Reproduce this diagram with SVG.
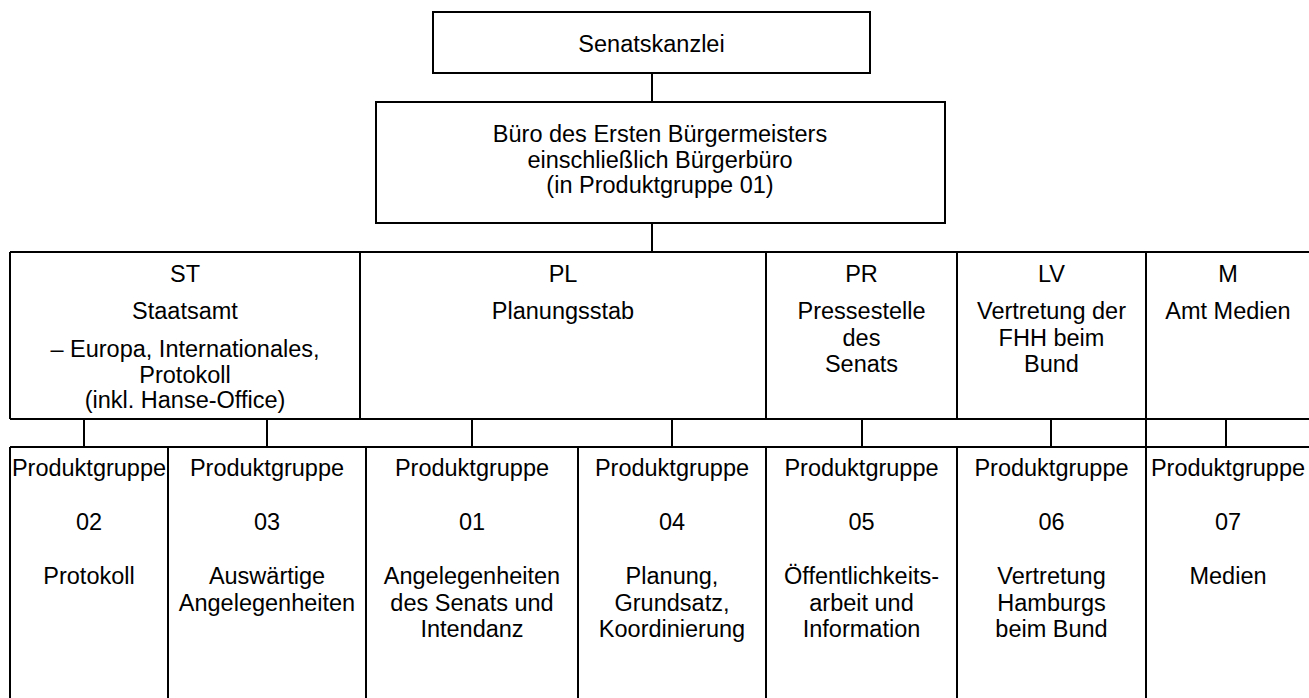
<svg xmlns="http://www.w3.org/2000/svg" width="1309" height="698" viewBox="0 0 1309 698">
<style>
  .ln { stroke:#000; stroke-width:2; fill:none; }
  .box { stroke:#000; stroke-width:2; fill:#fff; }
  text { font-family:"Liberation Sans", Arial, sans-serif; font-size:23.5px; fill:#000; text-anchor:middle; }
</style>
<rect width="1309" height="698" fill="#fff"/>

<g id="connectors">
  <line class="ln" x1="652" y1="73" x2="652" y2="102"/>
  <line class="ln" x1="652" y1="223" x2="652" y2="252"/>
  <line class="ln" x1="84" y1="419" x2="84" y2="447"/>
  <line class="ln" x1="267" y1="419" x2="267" y2="447"/>
  <line class="ln" x1="472" y1="419" x2="472" y2="447"/>
  <line class="ln" x1="672" y1="419" x2="672" y2="447"/>
  <line class="ln" x1="862" y1="419" x2="862" y2="447"/>
  <line class="ln" x1="1051" y1="419" x2="1051" y2="447"/>
  <line class="ln" x1="1146" y1="419" x2="1146" y2="447"/>
  <line class="ln" x1="1226" y1="419" x2="1226" y2="447"/>
</g>

<g id="senatskanzlei">
  <rect class="box" x="433" y="12" width="437" height="61"/>
  <text x="651.5" y="51.5">Senatskanzlei</text>
</g>

<g id="buero">
  <rect class="box" x="376" y="102" width="569" height="121"/>
  <text x="660" y="142">Büro des Ersten Bürgermeisters</text>
  <text x="660" y="167.5">einschließlich Bürgerbüro</text>
  <text x="660" y="193">(in Produktgruppe 01)</text>
</g>

<g id="main-row">
  <line class="ln" x1="10" y1="252" x2="1309" y2="252"/>
  <line class="ln" x1="10" y1="419" x2="1309" y2="419"/>
  <line class="ln" x1="10" y1="252" x2="10" y2="419"/>
  <line class="ln" x1="360" y1="252" x2="360" y2="419"/>
  <line class="ln" x1="766" y1="252" x2="766" y2="419"/>
  <line class="ln" x1="957" y1="252" x2="957" y2="419"/>
  <line class="ln" x1="1146" y1="252" x2="1146" y2="419"/>
</g>

<g id="st">
  <text x="185" y="282">ST</text>
  <text x="185" y="319">Staatsamt</text>
  <text x="185" y="356.5">– Europa, Internationales,</text>
  <text x="185" y="383">Protokoll</text>
  <text x="185" y="408">(inkl. Hanse-Office)</text>
</g>
<g id="pl">
  <text x="563" y="282">PL</text>
  <text x="563" y="319">Planungsstab</text>
</g>
<g id="pr">
  <text x="861.5" y="282">PR</text>
  <text x="861.5" y="319">Pressestelle</text>
  <text x="861.5" y="345.5">des</text>
  <text x="861.5" y="372">Senats</text>
</g>
<g id="lv">
  <text x="1051.5" y="282">LV</text>
  <text x="1051.5" y="319">Vertretung der</text>
  <text x="1051.5" y="345.5">FHH beim</text>
  <text x="1051.5" y="372">Bund</text>
</g>
<g id="m">
  <text x="1228" y="282">M</text>
  <text x="1228" y="319">Amt Medien</text>
</g>

<g id="bottom-row">
  <line class="ln" x1="10" y1="447" x2="1309" y2="447"/>
  <line class="ln" x1="10" y1="447" x2="10" y2="698"/>
  <line class="ln" x1="168" y1="447" x2="168" y2="698"/>
  <line class="ln" x1="366" y1="447" x2="366" y2="698"/>
  <line class="ln" x1="578" y1="447" x2="578" y2="698"/>
  <line class="ln" x1="766" y1="447" x2="766" y2="698"/>
  <line class="ln" x1="957" y1="447" x2="957" y2="698"/>
  <line class="ln" x1="1146" y1="447" x2="1146" y2="698"/>
</g>

<g id="pg02">
  <text x="89" y="476">Produktgruppe</text>
  <text x="89" y="530">02</text>
  <text x="89" y="584">Protokoll</text>
</g>
<g id="pg03">
  <text x="267" y="476">Produktgruppe</text>
  <text x="267" y="530">03</text>
  <text x="267" y="584">Auswärtige</text>
  <text x="267" y="610.5">Angelegenheiten</text>
</g>
<g id="pg01">
  <text x="472" y="476">Produktgruppe</text>
  <text x="472" y="530">01</text>
  <text x="472" y="584">Angelegenheiten</text>
  <text x="472" y="610.5">des Senats und</text>
  <text x="472" y="637">Intendanz</text>
</g>
<g id="pg04">
  <text x="672" y="476">Produktgruppe</text>
  <text x="672" y="530">04</text>
  <text x="672" y="584">Planung,</text>
  <text x="672" y="610.5">Grundsatz,</text>
  <text x="672" y="637">Koordinierung</text>
</g>
<g id="pg05">
  <text x="861.5" y="476">Produktgruppe</text>
  <text x="861.5" y="530">05</text>
  <text x="861.5" y="584">Öffentlichkeits-</text>
  <text x="861.5" y="610.5">arbeit und</text>
  <text x="861.5" y="637">Information</text>
</g>
<g id="pg06">
  <text x="1051.5" y="476">Produktgruppe</text>
  <text x="1051.5" y="530">06</text>
  <text x="1051.5" y="584">Vertretung</text>
  <text x="1051.5" y="610.5">Hamburgs</text>
  <text x="1051.5" y="637">beim Bund</text>
</g>
<g id="pg07">
  <text x="1228" y="476">Produktgruppe</text>
  <text x="1228" y="530">07</text>
  <text x="1228" y="584">Medien</text>
</g>
</svg>
